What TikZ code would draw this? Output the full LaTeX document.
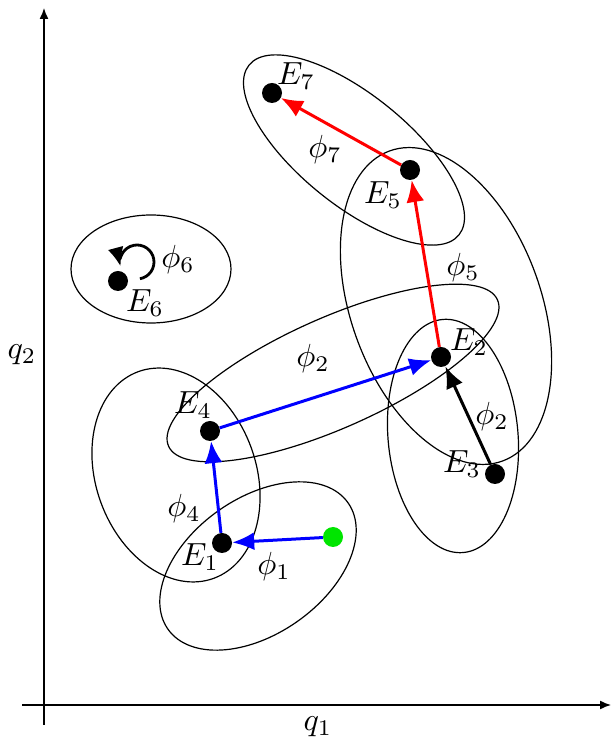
\documentclass[tikz,border=0pt]{standalone}
\usepackage{graphicx}
\usetikzlibrary{arrows.meta}
\newcommand\bigtxt[1]{\scalebox{3.2}{#1}}
\begin{document}
\begin{tikzpicture}[x=1pt,y=1pt,
  dot/.style={circle,fill=black,inner sep=0pt,minimum size=20pt},
  gdot/.style={circle,fill=green!90!black,inner sep=0pt,minimum size=20pt},
  lab/.style={inner sep=0pt},
  axis/.style={line width=1.4pt,-{Latex[length=11pt,width=9pt]}},
  ell/.style={line width=1.2pt},
  conn/.style={line width=3pt,-{Latex[length=22pt,width=18pt]}},
  redc/.style={conn,red},
  bluec/.style={conn,blue},
  blackc/.style={conn,black}]
\useasboundingbox (0,0) rectangle (613,741);
% axes
\coordinate (yb) at (44,16);
\coordinate (yt) at (44,733);
\coordinate (xl) at (22,36);
\coordinate (xr) at (611,36);
\draw[axis] (yb) -- (yt);
\draw[axis] (xl) -- (xr);
\node[lab] (q1) at (318,14) {\bigtxt{$q_1$}};
\node[lab] (q2) at (22,386) {\bigtxt{$q_2$}};
% ellipses
\draw[ell] (151,472) ellipse [x radius=80, y radius=54];
\draw[ell,rotate around={-39:(354,591)}] (354,591) ellipse [x radius=135, y radius=55];
\draw[ell,rotate around={20:(446,435)}] (446,435) ellipse [x radius=95, y radius=165];
\draw[ell,rotate around={24:(333,368)}] (333,368) ellipse [x radius=180, y radius=55];
\draw[ell,rotate around={5:(453,305)}] (453,305) ellipse [x radius=65, y radius=117];
\draw[ell,rotate around={20:(176,266)}] (176,266) ellipse [x radius=80, y radius=110];
\draw[ell,rotate around={35:(258,175)}] (258,175) ellipse [x radius=110, y radius=68];
% dots
\node[dot] (E7) at (272,648) {};
\node[dot] (E5) at (410,571) {};
\node[dot] (E2) at (441,384) {};
\node[dot] (E3) at (495,267) {};
\node[dot] (E4) at (210,310) {};
\node[dot] (E1) at (222,198) {};
\node[gdot] (G) at (333,204) {};
\node[dot] (E6) at (118,460) {};
% connectors
\draw[redc] (E5) -- (E7);
\draw[redc] (E2) -- (E5);
\draw[bluec] (E4) -- (E2);
\draw[bluec] (E1) -- (E4);
\draw[bluec] (G) -- (E1);
\draw[blackc] (E3) -- (E2);
\coordinate (c6) at (137,479);
\draw[line width=2.8pt,-{Latex[length=19pt,width=16pt]}] ([shift={(-80:17)}]c6) arc[start angle=-80,end angle=195,radius=17];
% labels
\node[lab] (l7) at (325,591) {\bigtxt{$\phi_7$}};
\node[lab] (l2) at (313,382) {\bigtxt{$\phi_2$}};
\node[lab] (l5) at (463,473) {\bigtxt{$\phi_5$}};
\node[lab] (l2b) at (492,324) {\bigtxt{$\phi_2$}};
\node[lab] (l6) at (178,481) {\bigtxt{$\phi_6$}};
\node[lab] (l4) at (184,232) {\bigtxt{$\phi_4$}};
\node[lab] (l1) at (274,174) {\bigtxt{$\phi_1$}};
\node[lab] (tE7) at (296,665) {\bigtxt{$E_7$}};
\node[lab] (tE5) at (383,546) {\bigtxt{$E_5$}};
\node[lab] (tE2) at (469,399) {\bigtxt{$E_2$}};
\node[lab] (tE3) at (462,277) {\bigtxt{$E_3$}};
\node[lab] (tE4) at (193,336) {\bigtxt{$E_4$}};
\node[lab] (tE1) at (200,184) {\bigtxt{$E_1$}};
\node[lab] (tE6) at (145,438) {\bigtxt{$E_6$}};
\end{tikzpicture}
\end{document}
